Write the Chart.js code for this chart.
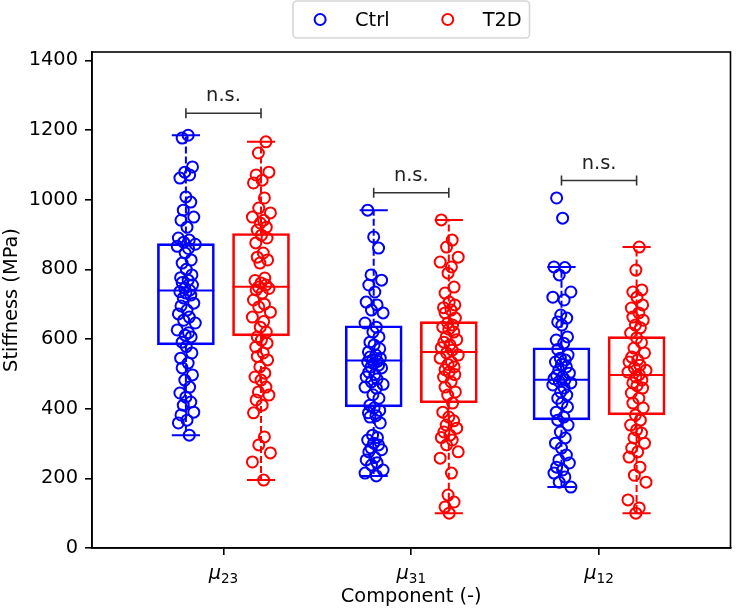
<!DOCTYPE html>
<html>
<head>
<meta charset="utf-8">
<script src="https://cdn.jsdelivr.net/npm/chart.js@4.4.1/dist/chart.umd.min.js"></script>
<style>
  html, body { margin: 0; padding: 0; background: #fff; }
  #wrap { width: 738px; height: 609px; }
</style>
</head>
<body>
<div id="wrap"><canvas id="stiffnessChart"></canvas></div>
<script>
// categories (μ with subscript) and the two groups
const categorySymbol = 'μ';
const categorySubscripts = ['23', '31', '12'];
const seriesNames = ['Ctrl', 'T2D'];
const seriesColors = ['#0000ff', '#ff0000'];
const yTicks = [0, 200, 400, 600, 800, 1000, 1200, 1400];

const ctrlMu23 = [1185, 1177, 1094, 1079, 1071, 1062, 1008, 993, 970, 950, 941, 921, 890, 884, 878, 872, 866, 860, 847, 827, 818, 800, 784, 776, 769, 762, 755, 746, 740, 736, 732, 726, 718, 703, 695, 683, 672, 663, 654, 646, 626, 618, 611, 606, 591, 578, 560, 545, 531, 517, 497, 482, 462, 445, 433, 419, 410, 390, 382, 367, 359, 324];
const t2dMu23 = [1166, 1134, 1079, 1071, 1056, 1048, 1005, 976, 962, 950, 941, 933, 921, 913, 898, 890, 876, 847, 835, 827, 818, 775, 768, 761, 755, 749, 745, 741, 732, 712, 700, 692, 677, 663, 650, 634, 620, 606, 597, 588, 577, 560, 550, 540, 520, 502, 491, 482, 462, 448, 439, 425, 410, 388, 319, 296, 273, 247, 195];
const ctrlMu31 = [970, 893, 861, 784, 769, 755, 735, 706, 698, 683, 675, 646, 634, 620, 606, 591, 583, 572, 563, 554, 548, 545, 540, 536, 534, 529, 525, 520, 517, 505, 498, 491, 485, 477, 470, 462, 459, 440, 430, 410, 402, 395, 388, 380, 376, 359, 324, 317, 310, 301, 296, 287, 282, 276, 260, 253, 245, 238, 224, 215, 207];
const t2dMu31 = [942, 884, 864, 835, 821, 807, 789, 749, 732, 706, 698, 690, 683, 675, 660, 646, 640, 634, 628, 620, 606, 598, 591, 583, 575, 568, 560, 554, 545, 534, 527, 520, 512, 505, 498, 491, 477, 462, 448, 439, 416, 390, 376, 365, 353, 344, 333, 324, 317, 310, 296, 276, 258, 215, 152, 132, 118, 100];
const ctrlMu12 = [1005, 947, 807, 805, 784, 735, 720, 712, 669, 660, 649, 640, 606, 597, 588, 570, 554, 545, 540, 534, 527, 520, 511, 502, 495, 491, 486, 482, 478, 474, 468, 459, 448, 439, 430, 416, 405, 390, 376, 367, 353, 333, 316, 301, 287, 267, 253, 244, 232, 224, 215, 204, 189, 175];
const t2dMu12 = [864, 798, 741, 735, 720, 698, 689, 675, 663, 654, 640, 632, 617, 603, 590, 574, 560, 548, 540, 534, 525, 517, 510, 505, 498, 491, 482, 474, 466, 459, 445, 430, 416, 402, 382, 367, 353, 339, 330, 316, 301, 287, 276, 261, 232, 209, 189, 138, 115, 100];

// box statistics per category
const ctrlLow = [324, 207, 175];
const ctrlQ1 = [583, 405, 368];
const ctrlMedian = [739, 538, 483];
const ctrlQ3 = [874, 638, 575];
const ctrlHigh = [1185, 970, 807];
const t2dLow = [195, 100, 100];
const t2dQ1 = [609, 417, 382];
const t2dMedian = [750, 563, 497];
const t2dQ3 = [903, 650, 607];
const t2dHigh = [1166, 942, 864];

// significance brackets
const sigLevels = [1248, 1020, 1055];
const sigLabels = ['n.s.', 'n.s.', 'n.s.'];

// small fixed horizontal scatter of the dots
const jitter = [0.012, -0.02, 0.035, -0.006, 0.02, -0.032, 0.0, 0.026, -0.014, 0.042, -0.026, 0.006, -0.04, 0.018, -0.012, 0.05, -0.046, 0.014, -0.004, 0.028, -0.02, 0.002, 0.032, -0.028];

const groupOffset = [-0.2, 0.2];
const capHalf = 0.075;
const fontPx = 19.4;
const black = '#000000';

Chart.defaults.font.family = '"DejaVu Sans", sans-serif';
Chart.defaults.font.size = fontPx;
Chart.defaults.color = black;

const seriesValues = [[ctrlMu23, ctrlMu31, ctrlMu12], [t2dMu23, t2dMu31, t2dMu12]];
const seriesStats = [
  {low: ctrlLow, q1: ctrlQ1, med: ctrlMedian, q3: ctrlQ3, high: ctrlHigh},
  {low: t2dLow, q1: t2dQ1, med: t2dMedian, q3: t2dQ3, high: t2dHigh}
];

let datasets = [];
seriesNames.forEach(function (name, s) {
  let pts = [];
  seriesValues[s].forEach(function (vals, i) {
    vals.forEach(function (v, k) {
      pts.push({x: i + groupOffset[s] + jitter[(k + 7 * s + 5 * i) % jitter.length], y: v});
    });
  });
  datasets.push({
    type: 'scatter',
    label: name,
    data: pts,
    borderColor: seriesColors[s],
    backgroundColor: 'rgba(0,0,0,0)',
    pointRadius: 5.5,
    pointBorderWidth: 2,
    pointHoverRadius: 5.5
  });
});
seriesNames.forEach(function (name, s) {
  datasets.push({
    type: 'bar',
    label: name + ' box',
    data: categorySubscripts.map(function (c, i) {
      return {x: i + groupOffset[s], y: [seriesStats[s].q1[i], seriesStats[s].q3[i]]};
    }),
    borderColor: seriesColors[s],
    backgroundColor: 'rgba(0,0,0,0)',
    borderWidth: 2,
    borderSkipped: false,
    barThickness: 57,
    grouped: false
  });
});

// whiskers, caps, medians, brackets, frame, tick labels and legend
const extras = {
  id: 'extras',
  afterDatasetsDraw(chart) {
    const ctx = chart.ctx;
    const x = chart.scales.x, y = chart.scales.y;
    ctx.save();
    seriesStats.forEach(function (st, s) {
      ctx.strokeStyle = seriesColors[s];
      ctx.lineWidth = 2;
      for (let i = 0; i < categorySubscripts.length; i++) {
        const c = i + groupOffset[s];
        const cx = x.getPixelForValue(c);
        const boxL = cx - 28.5, boxR = cx + 28.5;
        // median
        ctx.setLineDash([]);
        ctx.beginPath();
        ctx.moveTo(boxL, y.getPixelForValue(st.med[i]));
        ctx.lineTo(boxR, y.getPixelForValue(st.med[i]));
        ctx.stroke();
        // whiskers
        ctx.setLineDash([7, 3]);
        ctx.beginPath();
        ctx.moveTo(cx, y.getPixelForValue(st.q3[i]));
        ctx.lineTo(cx, y.getPixelForValue(st.high[i]));
        ctx.moveTo(cx, y.getPixelForValue(st.q1[i]));
        ctx.lineTo(cx, y.getPixelForValue(st.low[i]));
        ctx.stroke();
        // caps
        ctx.setLineDash([]);
        const capL = x.getPixelForValue(c - capHalf), capR = x.getPixelForValue(c + capHalf);
        ctx.beginPath();
        [st.high[i], st.low[i]].forEach(function (v) {
          ctx.moveTo(capL, y.getPixelForValue(v));
          ctx.lineTo(capR, y.getPixelForValue(v));
        });
        ctx.stroke();
      }
    });
    // significance brackets
    ctx.strokeStyle = '#333333';
    ctx.fillStyle = '#222222';
    ctx.lineWidth = 1.6;
    ctx.font = fontPx + 'px "DejaVu Sans"';
    ctx.textAlign = 'center';
    ctx.textBaseline = 'alphabetic';
    sigLevels.forEach(function (lv, i) {
      const x1 = x.getPixelForValue(i + groupOffset[0]);
      const x2 = x.getPixelForValue(i + groupOffset[1]);
      const py = y.getPixelForValue(lv);
      ctx.beginPath();
      ctx.moveTo(x1, py); ctx.lineTo(x2, py);
      ctx.moveTo(x1, py - 5); ctx.lineTo(x1, py + 5);
      ctx.moveTo(x2, py - 5); ctx.lineTo(x2, py + 5);
      ctx.stroke();
      ctx.fillText(sigLabels[i], (x1 + x2) / 2, py - 12);
    });
    ctx.restore();
  },
  afterDraw(chart) {
    const ctx = chart.ctx;
    const a = chart.chartArea;
    const x = chart.scales.x;
    ctx.save();
    // axes frame
    ctx.strokeStyle = black;
    ctx.lineWidth = 1.6;
    ctx.strokeRect(a.left, a.top, a.right - a.left, a.bottom - a.top);
    // category tick labels with subscripts
    ctx.fillStyle = black;
    ctx.textBaseline = 'alphabetic';
    ctx.textAlign = 'left';
    categorySubscripts.forEach(function (sub, i) {
      ctx.font = 'italic ' + fontPx + 'px "DejaVu Sans"';
      const w1 = ctx.measureText(categorySymbol).width;
      ctx.font = (fontPx * 0.7) + 'px "DejaVu Sans"';
      const w2 = ctx.measureText(sub).width;
      const start = x.getPixelForValue(i) - (w1 + w2) / 2;
      const base = a.bottom + 31;
      ctx.font = 'italic ' + fontPx + 'px "DejaVu Sans"';
      ctx.fillText(categorySymbol, start, base);
      ctx.font = (fontPx * 0.7) + 'px "DejaVu Sans"';
      ctx.fillText(sub, start + w1, base + 4);
    });
    // legend
    ctx.font = fontPx + 'px "DejaVu Sans"';
    const em = fontPx;
    const handleLen = 2 * em, handlePad = 0.8 * em, colSpace = 2 * em, borderPad = 0.4 * em;
    const widths = seriesNames.map(function (n) { return ctx.measureText(n).width; });
    let total = borderPad * 2 + colSpace * (seriesNames.length - 1);
    widths.forEach(function (w) { total += handleLen + handlePad + w; });
    const left = (a.left + a.right) / 2 - total / 2;
    const top = 1, h = 37;
    ctx.beginPath();
    ctx.roundRect(left, top, total, h, 4);
    ctx.fillStyle = 'rgba(255,255,255,0.8)';
    ctx.fill();
    ctx.strokeStyle = '#d6d6d6';
    ctx.lineWidth = 1.6;
    ctx.stroke();
    let cur = left + borderPad;
    const cy = top + h / 2;
    ctx.textBaseline = 'middle';
    seriesNames.forEach(function (n, s) {
      ctx.beginPath();
      ctx.arc(cur + handleLen / 2, cy, 5.5, 0, Math.PI * 2);
      ctx.strokeStyle = seriesColors[s];
      ctx.lineWidth = 2;
      ctx.stroke();
      ctx.fillStyle = black;
      ctx.fillText(n, cur + handleLen + handlePad, cy + 1);
      cur += handleLen + handlePad + widths[s] + colSpace;
    });
    ctx.restore();
  }
};

const ctx = document.getElementById('stiffnessChart').getContext('2d');
const chart = new Chart(ctx, {
  type: 'scatter',
  data: { datasets: datasets },
  options: {
    responsive: true,
    maintainAspectRatio: false,
    animation: false,
    layout: { padding: { left: 0, right: 2, top: 52, bottom: 0 } },
    plugins: {
      legend: { display: false },
      tooltip: { enabled: false }
    },
    scales: {
      x: {
        type: 'linear',
        min: -0.7,
        max: 2.7,
        offset: false,
        afterBuildTicks: function (scale) {
          scale.ticks = categorySubscripts.map(function (c, i) { return {value: i}; });
        },
        afterFit: function (scale) { scale.height = 61; },
        ticks: { display: false },
        grid: { display: true, offset: false, drawOnChartArea: false, drawTicks: true, tickLength: 7, color: black, lineWidth: 1.6 },
        border: { display: true, color: black, width: 1.6 },
        title: { display: true, text: 'Component (-)', font: { size: fontPx }, padding: { top: 0, bottom: 0 } }
      },
      y: {
        min: 0,
        max: 1424,
        afterBuildTicks: function (scale) {
          scale.ticks = yTicks.map(function (v) { return {value: v}; });
        },
        afterFit: function (scale) { scale.width = 92; },
        ticks: { padding: 7, font: { size: fontPx }, color: black, callback: function (v) { return String(v); } },
        grid: { display: true, drawOnChartArea: false, drawTicks: true, tickLength: 7, color: black, lineWidth: 1.6 },
        border: { display: true, color: black, width: 1.6 },
        title: { display: true, text: 'Stiffness (MPa)', font: { size: fontPx }, padding: { top: 0, bottom: 4 } }
      }
    }
  },
  plugins: [extras]
});
</script>
</body>
</html>
